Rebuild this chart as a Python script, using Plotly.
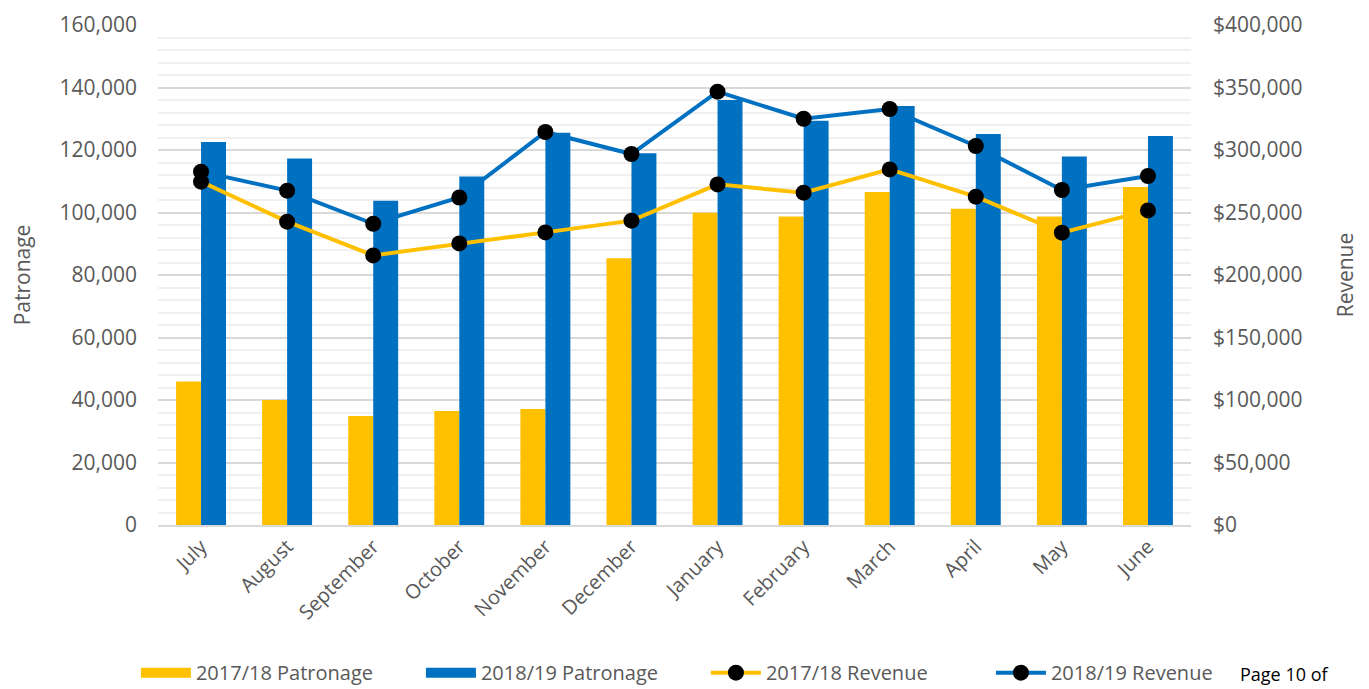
import plotly.graph_objects as go

months = ["July", "August", "September", "October", "November", "December",
          "January", "February", "March", "April", "May", "June"]
patronage_1718 = [45900, 40000, 34900, 36500, 37100, 85400, 99900, 98700, 106600, 101200, 98700, 108200]
patronage_1819 = [122600, 117300, 103800, 111500, 125500, 119000, 136000, 129400, 134100, 125100, 117900, 124500]
revenue_1718 = [274700, 242700, 215700, 225300, 234100, 243500, 272500, 265900, 284500, 262700, 233900, 251700]
revenue_1819 = [282700, 267500, 241000, 262000, 314400, 296800, 346700, 325000, 332800, 303200, 268000, 279200]

YELLOW = "#FFC000"
BLUE = "#0070C0"
GREY = "#595959"
FONT = "Open Sans"

W, H = 1361, 681  # page body adds an 8px offset; figure sized to compensate

fig = go.Figure()
fig.add_trace(go.Bar(x=months, y=patronage_1718, name="2017/18 Patronage", showlegend=False,
                     legendgroup="p1718",
                     marker=dict(color=YELLOW, line=dict(width=0)), yaxis="y"))
fig.add_trace(go.Bar(x=months, y=patronage_1819, name="2018/19 Patronage", showlegend=False,
                     legendgroup="p1819",
                     marker=dict(color=BLUE, line=dict(width=0)), yaxis="y"))
# legend swatches for bars (wide rectangles like the original)
fig.add_trace(go.Scatter(x=[None], y=[None], name="2017/18 Patronage", mode="lines",
                         legendgroup="p1718", line=dict(color=YELLOW, width=16)))
fig.add_trace(go.Scatter(x=[None], y=[None], name="2018/19 Patronage", mode="lines",
                         legendgroup="p1819", line=dict(color=BLUE, width=16)))
fig.add_trace(go.Scatter(x=months, y=revenue_1718, name="2017/18 Revenue", mode="lines+markers",
                         line=dict(color=YELLOW, width=4),
                         marker=dict(color="black", size=16), yaxis="y2"))
fig.add_trace(go.Scatter(x=months, y=revenue_1819, name="2018/19 Revenue", mode="lines+markers",
                         line=dict(color=BLUE, width=4),
                         marker=dict(color="black", size=16), yaxis="y2"))

fig.update_layout(
    width=W, height=H,
    margin=dict(l=0, r=0, t=17, b=164),
    paper_bgcolor="white", plot_bgcolor="white",
    font=dict(family=FONT, size=21, color=GREY),
    barmode="group", bargap=0.42, bargroupgap=0,
    xaxis=dict(domain=[150 / W, 1183 / W], range=[-0.5, len(months) - 0.5],
               tickangle=-45, showline=True,
               linecolor="#d9d9d9", linewidth=2,
               showgrid=False, ticks="", automargin=False,
               tickfont=dict(size=20, color=GREY)),
    yaxis=dict(range=[0, 160000], dtick=20000, tickformat=",d",
               showgrid=True, gridcolor="#d9d9d9", gridwidth=1.5,
               minor=dict(dtick=4000, showgrid=True, gridcolor="#f0f0f0", gridwidth=1.5),
               zeroline=False, ticks="", ticklabelstandoff=20, automargin=False,
               tickfont=dict(size=21, color=GREY),
               title=dict(text="Patronage", font=dict(size=21, color=GREY), standoff=26)),
    yaxis2=dict(range=[0, 400000], dtick=50000, tickprefix="$", tickformat=",d",
                overlaying="y", side="right", showgrid=False, zeroline=False,
                ticks="", ticklabelstandoff=21, automargin=False,
                tickfont=dict(size=21, color=GREY),
                title=dict(text="Revenue", font=dict(size=21, color=GREY), standoff=36)),
    legend=dict(orientation="h", x=0.094, xanchor="left", xref="container",
                y=0.024, yanchor="middle", yref="container",
                font=dict(size=20, color=GREY), entrywidth=220, entrywidthmode="pixels",
                itemwidth=50, traceorder="normal"),
    annotations=[dict(text="Page 10 of", xref="paper", yref="paper",
                      x=0.9035, y=-0.27, xanchor="left", yanchor="top",
                      showarrow=False, font=dict(size=18, color="black"))],
)

fig.write_html("out.html")
